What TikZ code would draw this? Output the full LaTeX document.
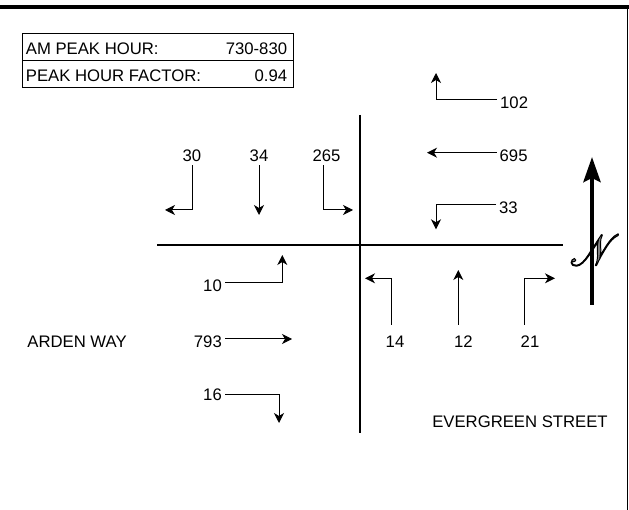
\documentclass[tikz,border=0pt]{standalone}
\usepackage{fontspec}
\setmainfont{Liberation Sans}
\usepackage{mathrsfs}
\usetikzlibrary{arrows.meta,positioning}
% outlined glyph: gray fill, black stroke
\newcommand{\outlined}[1]{\special{pdf:literal direct 2 Tr 0.6 w 0 G}#1\special{pdf:literal direct 0 Tr}}

\begin{document}
\begin{tikzpicture}[x=1pt,y=-1pt,
    lbl/.style={inner sep=3pt,font=\fontsize{16.7}{20}\selectfont},
    cell/.style={lbl,yshift=-1.8pt},
    mov/.style={line width=1pt,-{Stealth[length=10pt,width=10pt,inset=3pt]}},
    road/.style={line width=2.2pt},
    row/.style={draw,line width=1.4pt,outer sep=0pt,inner sep=0pt,minimum width=270.6pt,minimum height=27pt}]
    \useasboundingbox (0,0) rectangle (629,510);
    % page frame
    \draw[line width=4pt] (0,7) -- (629,7);
    \draw[line width=1.2pt] (627.6,9) -- (627.6,510);
    % peak hour table
    \node[row] (peak) at (158,46.8) {};
    \node[row,below=0pt of peak] (phf) {};
    \node[cell,anchor=west] (peaklbl) at (peak.west) {AM PEAK HOUR:};
    \node[cell,anchor=east,xshift=-3pt] (peakval) at (peak.east) {730-830};
    \node[cell,anchor=west] (phflbl) at (phf.west) {PEAK HOUR FACTOR:};
    \node[cell,anchor=east,xshift=-3pt] (phfval) at (phf.east) {0.94};
    % the two streets
    \draw[road] (157,245) -- (563,245);
    \draw[road] (360,115) -- (360,433);
    \node[lbl] (arden) at (77,341.5) {ARDEN WAY};
    \node[lbl] (evergreen) at (520,421.7) {EVERGREEN STREET};
    % southbound movements
    \node[lbl] (v30) at (192,156) {30};
    \node[lbl] (v34) at (259,156) {34};
    \node[lbl] (v265) at (326.5,156) {265};
    \coordinate (e30) at (165,210);
    \coordinate (e34) at (259,215);
    \coordinate (e265) at (353,210);
    \draw[mov] (v30.south) |- (e30);
    \draw[mov] (v34.south) -- (e34);
    \draw[mov] ([xshift=-3pt]v265.south) |- (e265);
    % westbound movements
    \node[lbl,anchor=west] (v102) at (497,102.3) {102};
    \node[lbl,anchor=west] (v695) at (496.5,155.7) {695};
    \node[lbl,anchor=west] (v33) at (496,208) {33};
    \coordinate (e102) at (436,73);
    \coordinate (e695) at (427,152.7);
    \coordinate (e33) at (436,229.3);
    \draw[mov] ([yshift=3pt]v102.west) -| (e102);
    \draw[mov] ([yshift=3pt]v695.west) -- (e695);
    \draw[mov] ([yshift=3pt]v33.west) -| (e33);
    % eastbound movements
    \node[lbl,anchor=east] (v10) at (225,286) {10};
    \node[lbl,anchor=east] (v793) at (225,342) {793};
    \node[lbl,anchor=east] (v16) at (225,395) {16};
    \coordinate (e10) at (282.3,255);
    \coordinate (e793) at (292,339);
    \coordinate (e16) at (279,423);
    \draw[mov] ([yshift=3pt]v10.east) -| (e10);
    \draw[mov] ([yshift=3pt]v793.east) -- (e793);
    \draw[mov] ([yshift=1pt]v16.east) -| (e16);
    % northbound movements
    \node[lbl] (v14) at (395,341.7) {14};
    \node[lbl] (v12) at (463.3,341.7) {12};
    \node[lbl] (v21) at (530,341.7) {21};
    \coordinate (e14) at (365,278.3);
    \coordinate (e12) at (458.3,270);
    \coordinate (e21) at (555,278.3);
    \draw[mov] ([xshift=-4pt,yshift=8pt]v14.north) |- (e14);
    \draw[mov] ([xshift=-5pt,yshift=8pt]v12.north) -- (e12);
    \draw[mov] ([xshift=-5.7pt,yshift=8pt]v21.north) |- (e21);
    % north arrow
    \coordinate (ntail) at (592,305);
    \coordinate (nhead) at (592,157);
    \draw[line width=4.5pt,-{Stealth[length=25pt,width=17pt,inset=4pt]}] (ntail) -- (nhead);
    \node[inner sep=0pt,text=black!50] (north) at (595,250)
        {\scalebox{1.62}[1.75]{\fontsize{24.88}{26}\selectfont\outlined{$\mathscr{N}$}}};
\end{tikzpicture}
\end{document}
